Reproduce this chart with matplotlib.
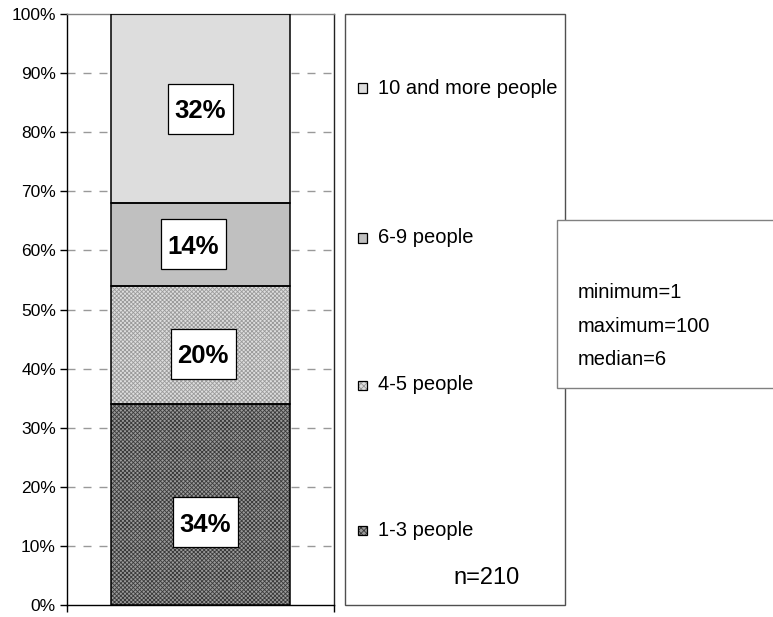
import matplotlib
matplotlib.use("Agg")
import matplotlib.pyplot as plt
from matplotlib.patches import Rectangle
import numpy as np

plt.rcParams['font.family'] = ['Liberation Sans', 'DejaVu Sans']
plt.rcParams['lines.scale_dashes'] = False
plt.rcParams['hatch.linewidth'] = 0.6

# ---- data ----
categories = ["1-3 people", "4-5 people", "6-9 people", "10 and more people"]
values = [34, 20, 14, 32]
value_labels = ["34%", "20%", "14%", "32%"]
stats_lines = ["minimum=1", "maximum=100", "median=6"]
n_label = "n=210"
yticks = [0, 10, 20, 30, 40, 50, 60, 70, 80, 90, 100]

# ---- styles ----
face_colors = ["#9a9a9a", "#dedede", "#c0c0c0", "#dddddd"]
hatch_colors = ["#3a3a3a", "#9a9a9a", None, None]
hatches = ["xxxxxxxx", "xxxxxxxx", None, None]
label_nudge_y = [-3, -1.5, 0, 0]
label_nudge_x = [0.017, 0.01, -0.026, 0.0]

W, H = 773, 617
fig = plt.figure(figsize=(W / 100, H / 100), dpi=100)
fig.patch.set_facecolor("white")

def fx(px):
    return px / W

def fy(py):
    return 1 - py / H

ax_left, ax_right, ax_top, ax_bot = 67, 334, 14, 605
ax = fig.add_axes([fx(ax_left), fy(ax_bot), fx(ax_right) - fx(ax_left), fy(ax_top) - fy(ax_bot)])
ax.set_xlim(-0.5, 0.5)
ax.set_ylim(0, 100)
px_per_x = (ax_right - ax_left) / 1.0
px_per_y = (ax_bot - ax_top) / 100.0

# gridlines (8px dash, 8px gap)
for t in yticks[1:-1]:
    ax.axhline(t, color="#999999", lw=1.0, ls=(0, (5.76, 5.76)), zorder=0)

bar_w = 0.673
box_w = 65 / px_per_x
box_h = 50 / px_per_y
bottom = 0
for i, v in enumerate(values):
    if hatches[i]:
        ax.bar(0, v, bottom=bottom, width=bar_w, color=face_colors[i],
               edgecolor=hatch_colors[i], hatch=hatches[i], linewidth=0, zorder=2)
    else:
        ax.bar(0, v, bottom=bottom, width=bar_w, color=face_colors[i], linewidth=0, zorder=2)
    ax.bar(0, v, bottom=bottom, width=bar_w, facecolor="none",
           edgecolor="black", linewidth=1.1, zorder=3)
    xc = 0 + label_nudge_x[i]
    yc = bottom + v / 2 + label_nudge_y[i]
    ax.add_patch(Rectangle((xc - box_w / 2, yc - box_h / 2), box_w, box_h,
                           facecolor="white", edgecolor="black", linewidth=0.9, zorder=4))
    ax.text(xc, yc, value_labels[i], ha="center", va="center_baseline",
            fontsize=18.5, fontweight="bold", zorder=5)
    bottom += v

ax.spines["top"].set_color("#808080")
ax.spines["top"].set_linewidth(1.0)
ax.spines["right"].set_color("#222222")
ax.spines["right"].set_linewidth(1.0)
ax.spines["left"].set_linewidth(1.0)
ax.spines["bottom"].set_linewidth(1.0)
ax.set_yticks(yticks)
ax.set_yticklabels([f"{t}%" for t in yticks], fontsize=12.5)
ax.tick_params(axis="y", length=5, width=1, pad=3)
ax.set_xticks([-0.5, 0.5])
ax.set_xticklabels(["", ""])
ax.tick_params(axis="x", length=5, width=1, direction="out")

# legend box
fig.patches.append(Rectangle((fx(345), fy(605)), fx(565) - fx(345), fy(14) - fy(605),
                             transform=fig.transFigure, facecolor="white",
                             edgecolor="#505050", linewidth=1.0, zorder=1))
legend_y = [530, 385, 238, 88]
ms = 9
for i, cat in enumerate(categories):
    y = legend_y[i]
    if hatches[i]:
        fig.patches.append(Rectangle((fx(358), fy(y + ms / 2)), fx(ms), ms / H,
                                     transform=fig.transFigure, facecolor=face_colors[i],
                                     edgecolor=hatch_colors[i], hatch="xxxxxx",
                                     linewidth=0, zorder=2))
    else:
        fig.patches.append(Rectangle((fx(358), fy(y + ms / 2)), fx(ms), ms / H,
                                     transform=fig.transFigure, facecolor=face_colors[i],
                                     linewidth=0, zorder=2))
    fig.patches.append(Rectangle((fx(358), fy(y + ms / 2)), fx(ms), ms / H,
                                 transform=fig.transFigure, facecolor="none",
                                 edgecolor="black", linewidth=0.9, zorder=3))
    fig.text(fx(378), fy(y), cat, fontsize=14.5, ha="left", va="center")

fig.text(fx(453), fy(578), n_label, fontsize=17, ha="left", va="center")

# stats box
fig.patches.append(Rectangle((fx(557), fy(388)), fx(230), fy(220) - fy(388),
                             transform=fig.transFigure, facecolor="white",
                             edgecolor="#808080", linewidth=1.0, zorder=4))
stats_y = [292, 326, 360]
for s, y in zip(stats_lines, stats_y):
    fig.text(fx(578), fy(y), s, fontsize=14.5, ha="left", va="center", zorder=5)

fig.savefig("out.png", dpi=100)
